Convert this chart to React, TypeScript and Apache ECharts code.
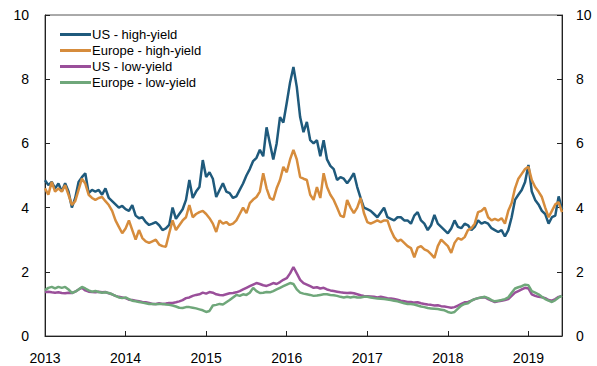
import React, { useEffect, useRef } from "react";
import * as echarts from "echarts";

const START_YEAR = 2013;
const STEPS_PER_YEAR = 24;
const yearTicks = ["2013", "2014", "2015", "2016", "2017", "2018", "2019"];
const seriesNames = ["US - high-yield", "Europe - high-yield", "US - low-yield", "Europe - low-yield"];
const seriesColors = ["#1f5a7c", "#d68c3c", "#9a4f9a", "#6fa77a"];

const usHigh = [
  4.85, 4.7, 4.8, 4.6, 4.75, 4.5, 4.76, 4.5, 4.0, 4.3, 4.8, 4.95, 5.07, 4.45, 4.55, 4.5, 4.55, 4.4, 4.6, 4.3,
  4.2, 4.1, 4.0, 4.05, 3.95, 3.9, 4.08, 3.75, 3.67, 3.7, 3.55, 3.46, 3.5, 3.55, 3.45, 3.3, 3.35, 3.46, 4.0, 3.65,
  3.8, 3.95, 4.24, 4.86, 4.3, 4.5, 4.64, 5.48, 4.95, 5.1, 4.9, 4.33, 4.55, 4.76, 4.5, 4.45, 4.3, 4.35, 4.55, 4.75,
  5.0, 5.2, 5.45, 5.55, 5.8, 5.6, 6.5, 6.0, 5.5, 6.0, 6.82, 6.65, 7.26, 7.9, 8.38, 7.76, 6.82, 6.35, 6.67, 6.1,
  6.0, 6.1, 5.6, 6.1, 5.5, 5.3, 5.2, 4.86, 4.95, 4.9, 4.76, 4.9, 5.07, 4.64, 4.3, 4.0, 3.95, 3.9, 3.8, 3.7,
  3.85, 4.0, 3.7, 3.65, 3.6, 3.7, 3.7, 3.6, 3.6, 3.5, 3.75, 3.86, 3.6, 3.5, 3.3, 3.45, 3.77, 3.5, 3.4, 3.3,
  3.2, 3.35, 3.6, 3.4, 3.36, 3.5, 3.45, 3.3, 3.4, 3.6, 3.5, 3.55, 3.5, 3.36, 3.3, 3.24, 3.3, 3.1, 3.3, 3.7,
  4.24, 4.4, 4.55, 4.8, 5.33, 4.5, 4.24, 4.1, 3.9, 3.8, 3.5, 3.7, 3.75, 4.35, 3.95,
];

const europeHigh = [
  4.6, 4.4, 4.8, 4.5, 4.6, 4.5, 4.7, 4.4, 4.08, 4.2, 4.55, 4.9, 4.75, 4.4, 4.3, 4.24, 4.3, 4.33, 4.2, 4.08,
  3.9, 3.6, 3.4, 3.2, 3.35, 3.6, 3.3, 3.0, 3.3, 3.05, 2.95, 2.9, 2.95, 3.0, 2.85, 2.8, 2.78, 3.2, 3.6, 3.3,
  3.45, 3.6, 3.7, 4.08, 3.7, 3.8, 3.86, 3.9, 3.8, 3.67, 3.5, 3.24, 3.6, 3.5, 3.55, 3.46, 3.5, 3.6, 3.8, 4.0,
  3.83, 4.14, 4.25, 4.33, 4.5, 5.07, 4.6, 4.3, 4.24, 4.6, 4.86, 5.27, 5.1, 5.5, 5.8, 5.5, 4.95, 4.9, 4.86, 4.4,
  4.24, 4.64, 4.3, 5.07, 4.64, 4.4, 4.24, 4.0, 3.75, 3.7, 4.24, 4.0, 3.83, 4.0, 4.3, 3.83, 3.55, 3.5, 3.55, 3.6,
  3.55, 3.6, 3.6, 3.3, 3.08, 2.95, 3.0, 2.9, 2.8, 2.74, 2.45, 2.75, 2.8, 2.7, 2.65, 2.55, 2.43, 2.8, 3.0, 2.9,
  2.8, 2.59, 2.9, 3.05, 3.0, 3.08, 3.3, 3.36, 3.5, 3.86, 3.9, 4.0, 3.7, 3.6, 3.65, 3.6, 3.67, 3.5, 3.9, 4.14,
  4.6, 4.9, 5.05, 5.2, 5.27, 4.86, 4.64, 4.5, 4.33, 4.0, 3.7, 3.9, 4.1, 4.17, 3.86,
];

const usLow = [
  1.37, 1.38, 1.36, 1.35, 1.36, 1.34, 1.33, 1.35, 1.34, 1.38, 1.45, 1.5, 1.42, 1.38, 1.37, 1.36, 1.38, 1.36, 1.37, 1.33,
  1.3, 1.25, 1.22, 1.2, 1.18, 1.13, 1.12, 1.1, 1.08, 1.06, 1.05, 1.03, 1.0, 1.0, 1.02, 1.0, 1.01, 1.03, 1.03, 1.05,
  1.08, 1.12, 1.18, 1.2, 1.25, 1.28, 1.3, 1.35, 1.32, 1.37, 1.35, 1.3, 1.28, 1.27, 1.3, 1.33, 1.34, 1.36, 1.4, 1.45,
  1.5, 1.55, 1.6, 1.65, 1.62, 1.58, 1.56, 1.6, 1.65, 1.62, 1.68, 1.75, 1.8, 1.95, 2.15, 1.95, 1.75, 1.65, 1.6, 1.55,
  1.5, 1.52, 1.48, 1.5, 1.45, 1.42, 1.4, 1.38, 1.36, 1.35, 1.34, 1.35, 1.33, 1.3, 1.27, 1.25, 1.24, 1.23, 1.22, 1.2,
  1.22, 1.2, 1.18, 1.17, 1.15, 1.13, 1.1, 1.08, 1.06, 1.06, 1.04, 1.05, 1.02, 1.0, 0.98, 0.97, 0.95, 0.96, 0.93, 0.92,
  0.9, 0.88, 0.9, 0.95, 1.0, 1.05, 1.06, 1.1, 1.15, 1.18, 1.2, 1.21, 1.15, 1.1, 1.06, 1.08, 1.1, 1.12, 1.15, 1.25,
  1.35, 1.4, 1.45, 1.5, 1.48, 1.3, 1.25, 1.22, 1.21, 1.18, 1.12, 1.1, 1.15, 1.22, 1.25,
];

const europeLow = [
  1.43, 1.5, 1.53, 1.48, 1.53, 1.5, 1.53, 1.45, 1.34, 1.38, 1.45, 1.53, 1.48, 1.42, 1.38, 1.4, 1.37, 1.35, 1.36, 1.34,
  1.3, 1.25, 1.2, 1.18, 1.2, 1.15, 1.1, 1.08, 1.06, 1.04, 1.02, 1.0, 1.0, 0.99, 1.0, 1.0, 0.98, 0.97, 0.95, 0.92,
  0.88, 0.87, 0.9, 0.9, 0.88, 0.86, 0.83, 0.8, 0.75, 0.78, 0.95, 0.97, 1.0, 0.98, 1.05, 1.12, 1.2, 1.28, 1.25, 1.3,
  1.28, 1.35, 1.5, 1.4, 1.34, 1.35, 1.37, 1.36, 1.4, 1.45, 1.5, 1.55, 1.6, 1.65, 1.62, 1.45, 1.35, 1.32, 1.3, 1.28,
  1.25, 1.26, 1.28, 1.3, 1.3, 1.28, 1.27, 1.25, 1.22, 1.2, 1.22, 1.2, 1.22, 1.2, 1.2, 1.22, 1.22, 1.2, 1.18, 1.17,
  1.16, 1.15, 1.14, 1.12, 1.1, 1.08, 1.05, 1.02, 1.0, 1.0, 0.98, 0.95, 0.92, 0.9, 0.87, 0.86, 0.85, 0.84, 0.82, 0.8,
  0.75, 0.72, 0.75, 0.85, 0.95, 1.0, 1.02, 1.1, 1.15, 1.18, 1.2, 1.22, 1.18, 1.12, 1.08, 1.1, 1.12, 1.15, 1.2, 1.35,
  1.48, 1.52, 1.55, 1.6, 1.58, 1.4, 1.35, 1.3, 1.22, 1.15, 1.1, 1.06, 1.12, 1.2, 1.25,
];

const allSeries = [usHigh, europeHigh, usLow, europeLow];

export default function App() {
  const ref = useRef<HTMLDivElement>(null);
  useEffect(() => {
    document.body.style.margin = "0";
    if (!ref.current) return;
    const chart = echarts.init(ref.current, null, { renderer: "svg" });
    const xMax = START_YEAR + (usHigh.length - 1) / STEPS_PER_YEAR;
    const axisFont = { fontFamily: "Liberation Sans, Arial, sans-serif", fontSize: 14, color: "#000" };
    const yAxisBase = {
      type: "value",
      min: 0,
      max: 10,
      interval: 2,
      axisLine: { show: true, lineStyle: { color: "#222", width: 1 } },
      axisTick: { show: true, inside: true, length: 5, lineStyle: { color: "#222" } },
      splitLine: { show: false },
    };
    chart.setOption({
      animation: false,
      backgroundColor: "#fff",
      grid: { left: 45, right: 35, top: 15, bottom: 30, show: true, borderColor: "#555", borderWidth: 1 },
      legend: {
        orient: "vertical",
        left: 55,
        top: 23,
        itemWidth: 31,
        itemHeight: 3,
        itemGap: 3,
        icon: "rect",
        data: seriesNames,
        textStyle: { fontFamily: "Liberation Sans, Arial, sans-serif", fontSize: 13, color: "#000", padding: [0, 0, 0, -4] },
      },
      xAxis: {
        type: "value",
        min: START_YEAR,
        max: xMax,
        interval: 1,
        axisLine: { show: true, lineStyle: { color: "#222", width: 1 } },
        axisTick: { show: true, inside: true, length: 5, lineStyle: { color: "#222" } },
        splitLine: { show: false },
        axisLabel: {
          ...axisFont,
          margin: 15,
          showMaxLabel: false,
          formatter: (v: number) => {
            const idx = Math.round(v) - START_YEAR;
            return Math.abs(v - Math.round(v)) < 1e-6 && yearTicks[idx] ? yearTicks[idx] : "";
          },
        },
      },
      yAxis: [
        { ...yAxisBase, position: "left", axisLabel: { ...axisFont, margin: 16 } },
        { ...yAxisBase, position: "right", axisLabel: { ...axisFont, margin: 14 } },
      ],
      series: allSeries.map((vals, k) => ({
        name: seriesNames[k],
        type: "line",
        showSymbol: false,
        symbol: "none",
        color: seriesColors[k],
        lineStyle: { width: 2.5, color: seriesColors[k] },
        data: vals.map((v, i) => [START_YEAR + i / STEPS_PER_YEAR, v]),
      })),
    });
    return () => chart.dispose();
  }, []);
  return <div ref={ref} style={{ width: 597, height: 366 }} />;
}
